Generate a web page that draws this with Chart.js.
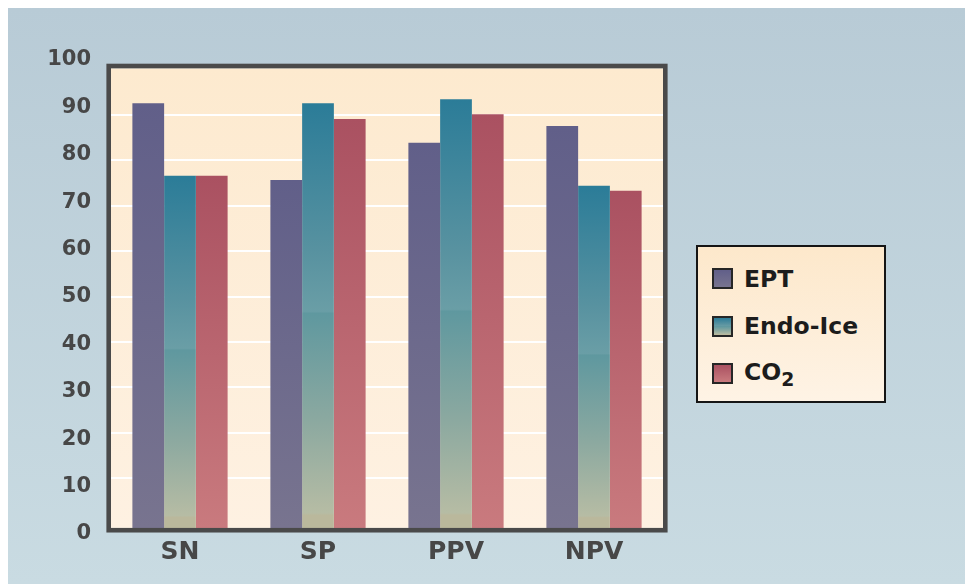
<!DOCTYPE html>
<html>
<head>
<meta charset="utf-8">
<script src="https://cdn.jsdelivr.net/npm/chart.js@4.4.1/dist/chart.umd.min.js"></script>
<style>
  html, body { overflow: hidden; }
  body { margin: 8px 0 0 8px; background: #ffffff; }
  #wrap {
    position: relative;
    width: 957px;
    height: 576px;
    background: linear-gradient(to bottom, #b8cbd6 0%, #c9dbe2 100%);
  }
  #chart { position: absolute; left: 0; top: 0; }
  #legend {
    position: absolute;
    left: 688px;
    top: 237px;
    width: 190px;
    height: 158px;
    box-sizing: border-box;
    border: 2px solid #151515;
    background: linear-gradient(to bottom, #fde8cb 0%, #fef3e5 100%);
    font-family: "DejaVu Sans", sans-serif;
    font-weight: bold;
    font-size: 23.5px;
    color: #1c1c1c;
  }
  .item { position: absolute; left: 14px; height: 21px; display: flex; align-items: center; }
  .swatch { width: 21px; height: 21px; box-sizing: border-box; border: 2px solid #262626; margin-right: 11px; }
  .item sub { font-size: 0.8em; vertical-align: -0.3em; }
</style>
</head>
<body>
<div id="wrap">
  <canvas id="chart" width="957" height="576"></canvas>
  <div id="legend"></div>
</div>
<script>
// Данные графика
const categories = ['SN', 'SP', 'PPV', 'NPV'];
const seriesNames = ['EPT', 'Endo-Ice', 'CO2'];
const eptValues = [92.6, 75.7, 83.9, 87.6];
const endoIceValues = [76.6, 92.6, 93.5, 74.4];
const co2Values = [76.6, 89.1, 90.2, 73.3];
const yTickLabels = [0, 10, 20, 30, 40, 50, 60, 70, 80, 90, 100];
const gridValues = [10, 20, 30, 40, 50, 60, 70, 80, 90];

// Цвета столбцов (сверху вниз)
const eptStops = [[0, '#615f89'], [1, '#78748f']];
const endoStops = [[0, '#2b7c98'], [0.35, '#5892a0'], [0.49, '#6a9ea6'], [0.495, '#5f989f'],
  [0.75, '#8ca9a0'], [0.965, '#b6bca4'], [0.97, '#bab89c'], [1, '#bab89c']];
const co2Stops = [[0, '#aa5161'], [1, '#c97a7e']];

const FRAME_TOP = 100.3;
const FRAME_BOTTOM = -1;

function barFill(stops) {
  return (ctx) => {
    const chart = ctx.chart;
    if (!chart.chartArea || ctx.type !== 'data') return stops[0][1];
    const y = chart.scales.y;
    const top = y.getPixelForValue(ctx.raw);
    const bottom = y.getPixelForValue(FRAME_BOTTOM);
    const g = chart.ctx.createLinearGradient(0, top, 0, bottom);
    stops.forEach(([o, c]) => g.addColorStop(o, c));
    return g;
  };
}

function cssGradient(stops) {
  return 'linear-gradient(to bottom, ' + stops.map(([o, c]) => c + ' ' + (o * 100) + '%').join(', ') + ')';
}

// Фон и рамка области построения
const plotFrame = {
  id: 'plotFrame',
  beforeDraw(chart) {
    const { ctx, chartArea, scales } = chart;
    const top = scales.y.getPixelForValue(FRAME_TOP);
    const bottom = scales.y.getPixelForValue(FRAME_BOTTOM);
    const g = ctx.createLinearGradient(0, top, 0, bottom);
    g.addColorStop(0, '#fdeacf');
    g.addColorStop(1, '#fef1e2');
    ctx.save();
    ctx.fillStyle = g;
    ctx.fillRect(chartArea.left, top, chartArea.right - chartArea.left, bottom - top);
    ctx.restore();
  },
  afterDatasetsDraw(chart) {
    const { ctx, chartArea, scales } = chart;
    const top = scales.y.getPixelForValue(FRAME_TOP);
    const bottom = scales.y.getPixelForValue(FRAME_BOTTOM);
    const w = 4.6;
    ctx.save();
    ctx.strokeStyle = '#4a4a4a';
    ctx.lineWidth = w;
    ctx.strokeRect(chartArea.left - w / 2, top - w / 2,
      chartArea.right - chartArea.left + w, bottom - top + w);
    ctx.restore();
  }
};

const datasets = [
  { label: seriesNames[0], data: eptValues, backgroundColor: barFill(eptStops) },
  { label: seriesNames[1], data: endoIceValues, backgroundColor: barFill(endoStops) },
  { label: seriesNames[2], data: co2Values, backgroundColor: barFill(co2Stops) }
].map(d => Object.assign(d, {
  base: FRAME_BOTTOM,
  borderWidth: 0,
  barPercentage: 1.0,
  categoryPercentage: 0.69
}));

const tickColor = '#474747';

new Chart(document.getElementById('chart'), {
  type: 'bar',
  data: { labels: categories, datasets },
  options: {
    responsive: false,
    animation: false,
    events: [],
    layout: { padding: { left: 30, right: 302, top: 52, bottom: 20 } },
    plugins: { legend: { display: false }, tooltip: { enabled: false } },
    scales: {
      x: {
        grid: { display: false, drawTicks: false },
        border: { display: false },
        ticks: {
          color: tickColor,
          padding: 3,
          font: { family: 'DejaVu Sans', weight: 'bold', size: 25 }
        },
        afterFit: s => { s.height = 30; }
      },
      y: {
        position: 'right',
        min: -2.34,
        max: 102.13,
        afterBuildTicks: s => { s.ticks = gridValues.map(v => ({ value: v })); },
        grid: { color: '#ffffff', lineWidth: 2, drawTicks: false },
        border: { display: false },
        ticks: { display: false },
        afterFit: s => { s.width = 0; }
      },
      yLabels: {
        position: 'left',
        min: 0,
        max: 100,
        afterBuildTicks: s => { s.ticks = yTickLabels.map(v => ({ value: v })); },
        grid: { display: false, drawTicks: false },
        border: { display: false },
        ticks: {
          color: tickColor,
          padding: 20,
          font: { family: 'DejaVu Sans', weight: 'bold', size: 21 }
        },
        afterFit: s => { s.width = 73; }
      }
    }
  },
  plugins: [plotFrame]
});

// HTML-легенда
const legendEl = document.getElementById('legend');
[eptStops, endoStops, co2Stops].forEach((stops, i) => {
  const item = document.createElement('div');
  item.className = 'item';
  item.style.top = (21 + i * 47.5) + 'px';
  const sw = document.createElement('div');
  sw.className = 'swatch';
  sw.style.background = cssGradient(stops);
  const txt = document.createElement('span');
  txt.innerHTML = seriesNames[i].replace(/(\d)$/, '<sub>$1</sub>');
  item.appendChild(sw);
  item.appendChild(txt);
  legendEl.appendChild(item);
});
</script>
</body>
</html>
